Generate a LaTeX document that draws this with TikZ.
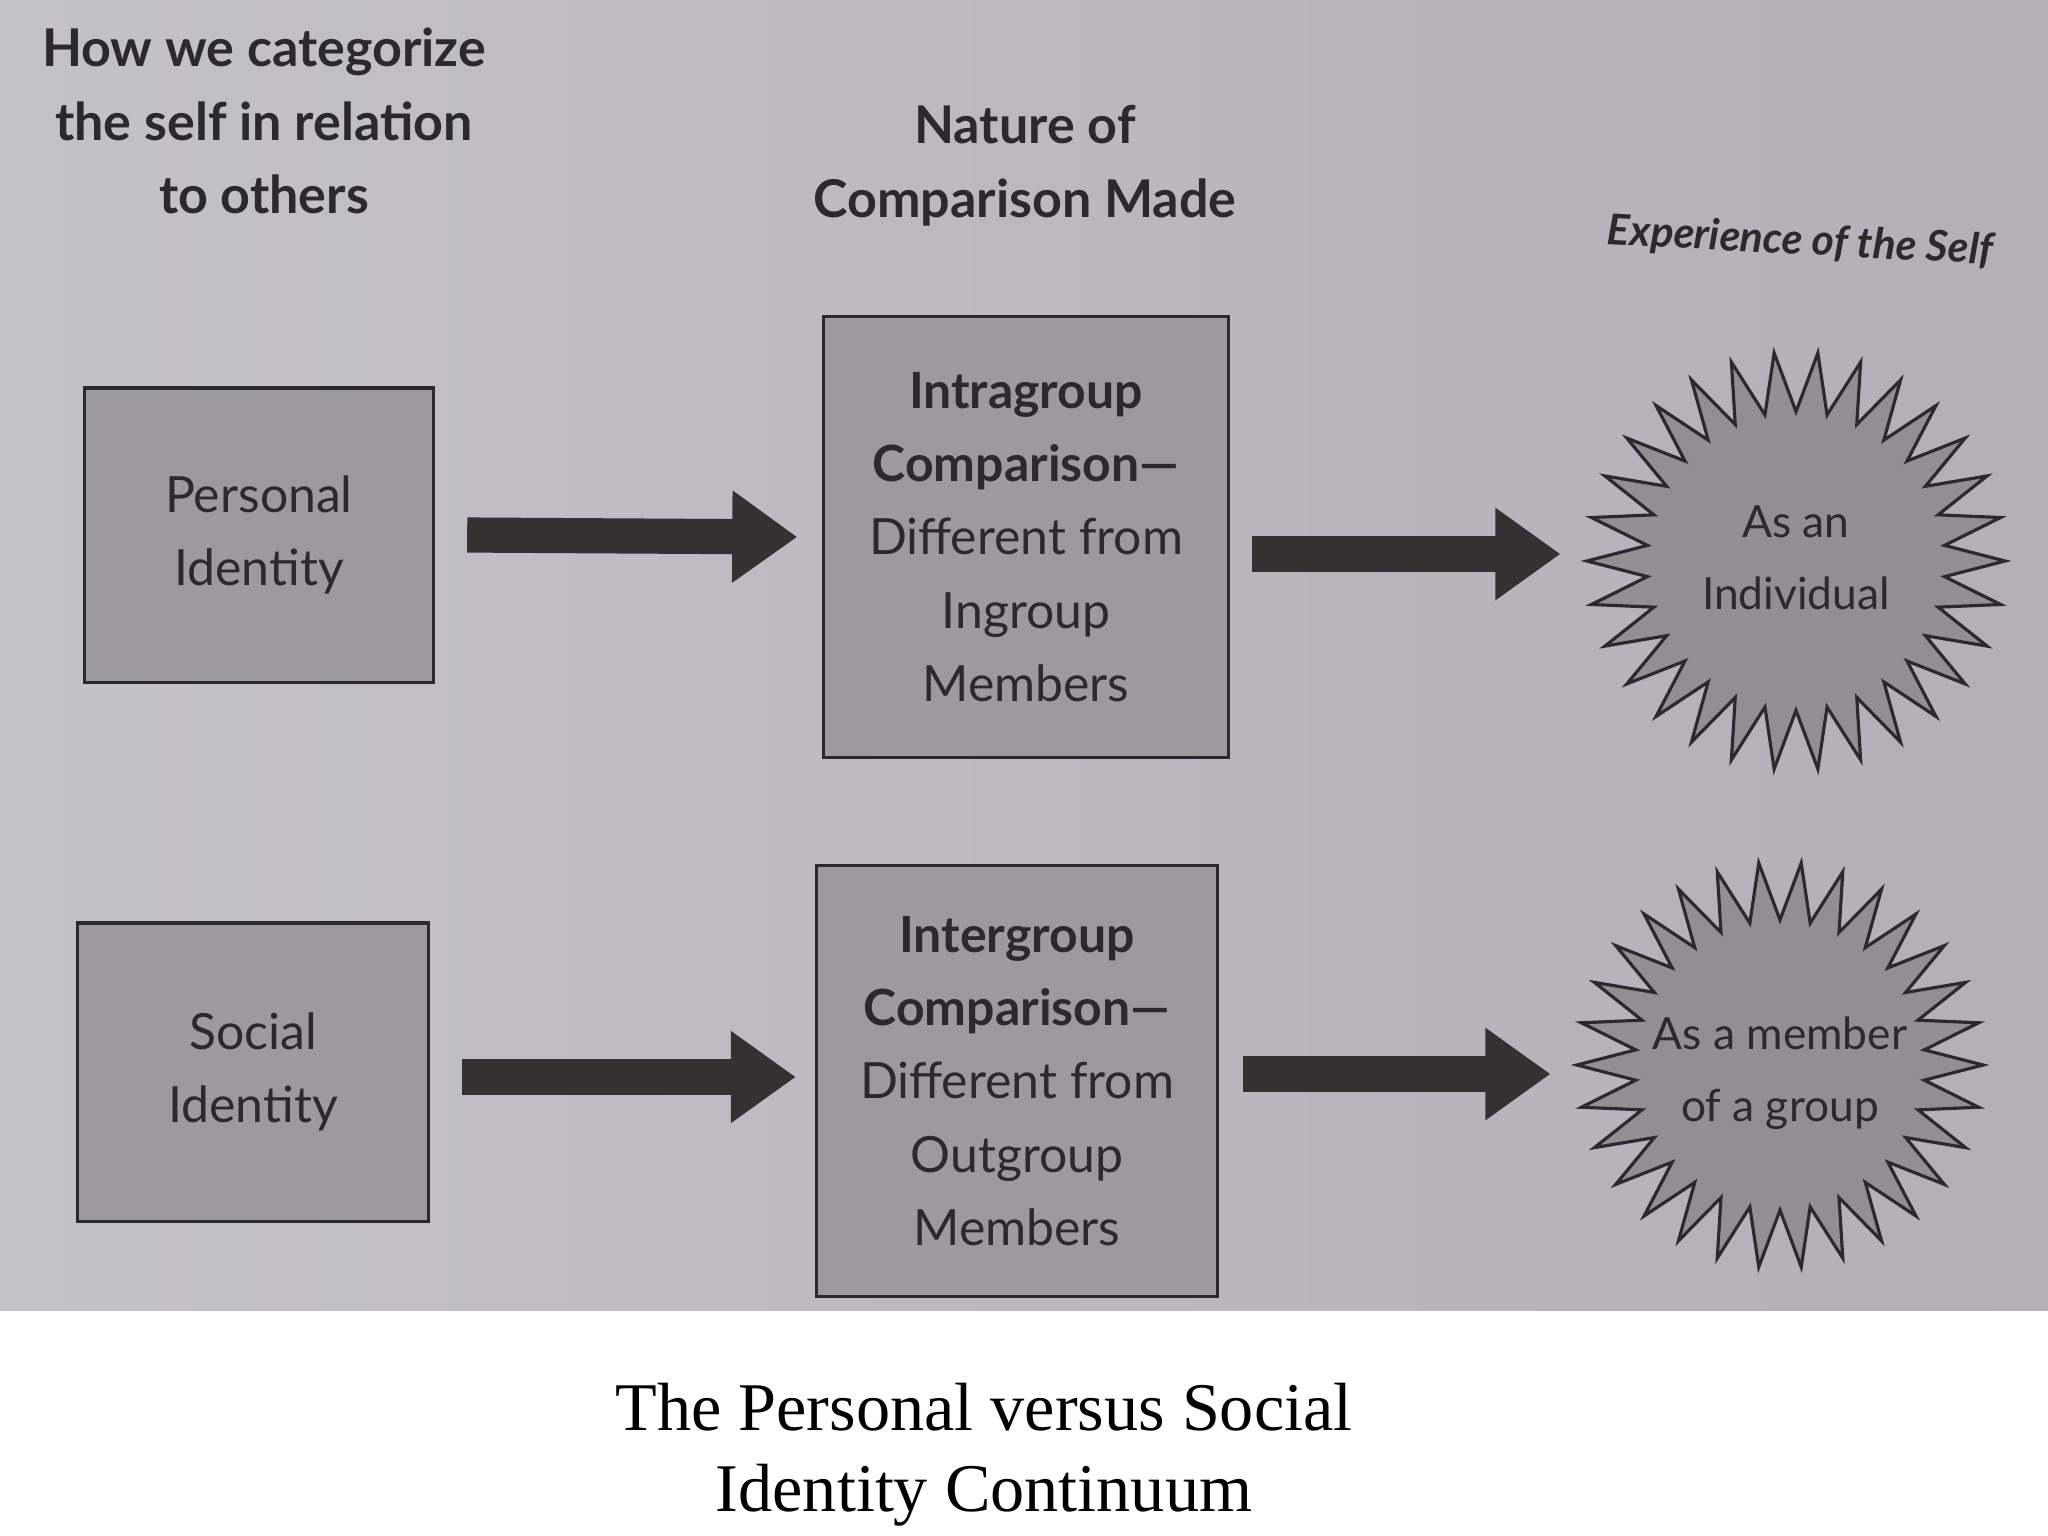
\documentclass[tikz,border=0pt]{standalone}
\usepackage{fontspec}
\setmainfont{Liberation Serif}
\setsansfont{Lato}
\usetikzlibrary{arrows.meta,shapes.geometric,positioning}
\definecolor{photo}{RGB}{196,194,201}
\definecolor{photodark}{RGB}{180,174,183}
\definecolor{boxgray}{RGB}{156,153,159}
\definecolor{stargray}{RGB}{146,142,148}
\definecolor{inkgray}{RGB}{44,41,44}
\definecolor{arrowgray}{RGB}{52,49,51}
\tikzstyle{heading} = [text=inkgray, align=center, font=\sffamily\bfseries\fontsize{14.8}{21}\selectfont]
\tikzstyle{identity} = [draw=inkgray, line width=0.9pt, fill=boxgray, text=inkgray, align=center, inner sep=0pt, font=\sffamily\fontsize{14.2}{20.8}\selectfont]
\tikzstyle{comparison} = [identity, minimum width=4.04cm, minimum height=4.40cm]
\tikzstyle{burst} = [star, star points=30, star point ratio=1.40, shape border rotate=6, draw=inkgray, line width=0.9pt, fill=stargray, inner sep=0pt]
\tikzstyle{bursttext} = [text=inkgray, align=center, font=\sffamily\fontsize{12.6}{20.5}\selectfont]
\tikzstyle{arrow} = [draw, line width=10pt, color=arrowgray, -{Triangle[length=18.5pt,width=25pt]}]
\tikzstyle{caption} = [text=black, align=center, font=\rmfamily\fontsize{19.4}{23}\selectfont]

\begin{document}
\begin{tikzpicture}[x=0.01cm,y=-0.01cm]
% photographed page, white strip below it
\useasboundingbox (0,0) rectangle (2048,1536);
\fill[white] (0,0) rectangle (2048,1536);
\shade[left color=photo, right color=photodark] (0,0) rectangle (2048,1310);

% column headings
\node[heading] (h1) at (264,121) {How we categorize\\the self in relation\\to others};
\path (h1)+(761,45) node[heading] (h2) {Nature of\\Comparison Made};
\node[heading, font=\sffamily\bfseries\itshape\fontsize{12.1}{15}\selectfont, rotate=-3] (h3) at (1800,242) {Experience of the Self};

% personal row
\node[identity, minimum width=3.49cm, minimum height=2.94cm] (pid) at (259,535) {Personal\\Identity};
\path (pid)+(767,2) node[comparison] (intra) {\textbf{Intragroup}\\\textbf{Comparison—}\\Different from\\Ingroup\\Members};
\path (intra)+(770,24) node[burst, minimum size=4.18cm] (indiv) {};
\path (indiv)+(0,-3) node[bursttext] (indivtext) {As an\\Individual};

% social row
\node[identity, minimum width=3.50cm, minimum height=2.98cm] (sid) at (253,1072) {Social\\Identity};
\path (sid)+(764,9) node[comparison, minimum width=4.01cm, minimum height=4.30cm] (inter) {\textbf{Intergroup}\\\textbf{Comparison—}\\Different from\\Outgroup\\Members};
\path (inter)+(763,-16) node[burst, minimum size=4.06cm] (member) {};
\path (member)+(0,8) node[bursttext] (membertext) {As a member\\of a group};

% arrows
\path [arrow] ([shift={(32,0)}]pid.east) -- ([shift={(-25,0)}]intra.west);
\path [arrow] ([shift={(22,17)}]intra.east) -- ([shift={(-20,-7)}]indiv.west);
\path [arrow] ([shift={(32,5)}]sid.east) -- ([shift={(-19,-4)}]inter.west);
\path [arrow] ([shift={(24,-7)}]inter.east) -- ([shift={(-20,9)}]member.west);

% caption
\node[caption] (cap) at (984,1455) {The Personal versus Social\\Identity Continuum};
\end{tikzpicture}
\end{document}
